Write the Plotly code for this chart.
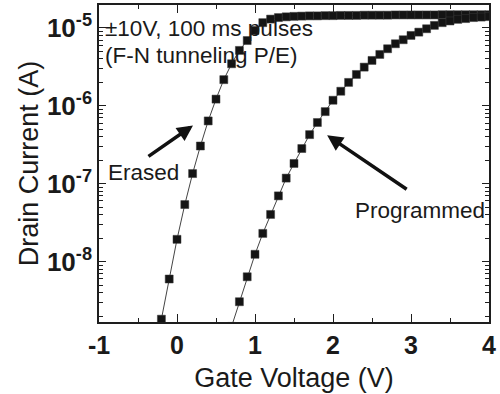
import plotly.graph_objects as go

# ---- data ----
erased_v = [-0.2, -0.1, 0.0, 0.1, 0.2, 0.3, 0.4, 0.5, 0.6, 0.7, 0.8, 0.9,
            1.0, 1.1, 1.2, 1.3, 1.4, 1.5, 1.6, 1.7, 1.8, 1.9,
            2.0, 2.1, 2.2, 2.3, 2.4, 2.5, 2.6, 2.7, 2.8, 2.9,
            3.0, 3.1, 3.2, 3.3, 3.4, 3.5, 3.6, 3.7, 3.8, 3.9, 4.0]
erased_i = [1.82e-9, 5.97e-9, 1.93e-8, 5.4e-8, 1.35e-7, 3.05e-7, 6.4e-7, 1.22e-6,
            2.17e-6, 3.47e-6, 5.15e-6, 6.9e-6,
            9.3e-6, 1.17e-5, 1.30e-5, 1.36e-5, 1.39e-5, 1.41e-5, 1.42e-5, 1.43e-5,
            1.43e-5, 1.44e-5,
            1.44e-5, 1.45e-5, 1.45e-5, 1.45e-5, 1.46e-5, 1.46e-5, 1.46e-5, 1.46e-5,
            1.47e-5, 1.47e-5,
            1.47e-5, 1.47e-5, 1.47e-5, 1.47e-5, 1.48e-5, 1.48e-5, 1.48e-5, 1.48e-5,
            1.48e-5, 1.48e-5, 1.48e-5]

prog_v = [0.7, 0.8, 0.9, 1.0, 1.1, 1.2, 1.3, 1.4, 1.5, 1.6, 1.7, 1.8, 1.9,
          2.0, 2.1, 2.2, 2.3, 2.4, 2.5, 2.6, 2.7, 2.8, 2.9,
          3.0, 3.1, 3.2, 3.3, 3.4, 3.5, 3.6, 3.7, 3.8, 3.9, 4.0]
prog_i = [1.47e-9, 3.05e-9, 6.38e-9, 1.24e-8, 2.30e-8, 4.03e-8, 6.98e-8, 1.18e-7,
          1.82e-7, 2.83e-7, 4.27e-7, 6.11e-7, 8.43e-7,
          1.18e-6, 1.54e-6, 2.00e-6, 2.53e-6, 3.14e-6, 3.83e-6, 4.57e-6, 5.41e-6,
          6.27e-6, 7.06e-6,
          8.02e-6, 8.84e-6, 9.77e-6, 1.08e-5, 1.17e-5, 1.23e-5, 1.29e-5, 1.32e-5,
          1.36e-5, 1.38e-5, 1.40e-5]

x_ticks = [-1, 0, 1, 2, 3, 4]
x_ticktext = ["-1", "0", "1", "2", "3", "4"]
x_minor = [-0.5, 0.5, 1.5, 2.5, 3.5]
y_ticks = [1e-8, 1e-7, 1e-6, 1e-5]
y_ticktext = ["10<sup>-8</sup>", "10<sup>-7</sup>", "10<sup>-6</sup>", "10<sup>-5</sup>"]
y_minor = [m * 10.0 ** e for e in (-9, -8, -7, -6, -5) for m in range(2, 10)]

FONT = "Liberation Sans, Arial, sans-serif"
AX = "#1e1e1e"

marker = dict(symbol="square", size=8, color="#141414", line=dict(width=0.5, color="#3a3a3a"))
line = dict(color="#444", width=1)

fig = go.Figure()
fig.add_trace(go.Scatter(x=erased_v, y=erased_i, mode="lines+markers",
                         marker=marker, line=line, name="Erased", showlegend=False))
fig.add_trace(go.Scatter(x=prog_v, y=prog_i, mode="lines+markers",
                         marker=marker, line=line, name="Programmed", showlegend=False))

fig.update_layout(
    width=500, height=394,
    margin=dict(l=99, r=11, t=4.5, b=72, autoexpand=False),
    paper_bgcolor="white", plot_bgcolor="white",
    font=dict(family=FONT, color="#1a1a1a"),
    xaxis=dict(
        range=[-1, 4], tickmode="array", tickvals=x_ticks, ticktext=x_ticktext,
        ticks="inside", ticklen=8, tickwidth=1.3, tickcolor=AX,
        showline=True, linecolor=AX, linewidth=1.6, mirror="ticks",
        showgrid=False, zeroline=False, automargin=False,
        tickfont=dict(size=25, weight="bold", family=FONT, color="#1a1a1a"),
        minor=dict(tickmode="array", tickvals=x_minor, ticks="inside", ticklen=4,
                   tickwidth=1.1, tickcolor=AX, showgrid=False),
        title=dict(text="Gate Voltage (V)", font=dict(size=27, family=FONT, color="#1a1a1a"),
                   standoff=10),
    ),
    yaxis=dict(
        type="log", range=[-8.776, -4.705], tickmode="array",
        tickvals=y_ticks, ticktext=y_ticktext,
        ticks="inside", ticklen=7, tickwidth=1.3, tickcolor=AX,
        showline=True, linecolor=AX, linewidth=1.6, mirror="ticks",
        showgrid=False, zeroline=False, automargin=False,
        tickfont=dict(size=26, weight="bold", family=FONT, color="#1a1a1a"),
        minor=dict(tickmode="array", tickvals=y_minor, ticks="inside", ticklen=4,
                   tickwidth=1.0, tickcolor=AX, showgrid=False),
        title=dict(text="Drain Current (A)", font=dict(size=27, family=FONT, color="#1a1a1a"),
                   standoff=0),
    ),
)

txt = dict(size=22.5, family=FONT, color="#1a1a1a")
fig.add_annotation(text="±10V, 100 ms pulses", xref="paper", yref="paper",
                   x=0.010, y=0.926, xanchor="left", yanchor="middle", showarrow=False, font=txt)
fig.add_annotation(text="(F-N tunneling P/E)", xref="paper", yref="paper",
                   x=0.010, y=0.841, xanchor="left", yanchor="middle", showarrow=False, font=txt)
fig.add_annotation(text="Erased", xref="paper", yref="paper",
                   x=0.113, y=0.472, xanchor="center", yanchor="middle", showarrow=False, font=txt)
fig.add_annotation(text="Programmed", xref="paper", yref="paper",
                   x=0.823, y=0.353, xanchor="center", yanchor="middle", showarrow=False, font=txt)
# arrows
fig.add_annotation(text="", xref="paper", yref="paper", x=0.241, y=0.620,
                   ax=-46, ay=32, showarrow=True, arrowhead=2, arrowsize=0.9,
                   arrowwidth=3.5, arrowcolor="#111")
fig.add_annotation(text="", xref="paper", yref="paper", x=0.585, y=0.589,
                   ax=81, ay=55, showarrow=True, arrowhead=2, arrowsize=0.9,
                   arrowwidth=3.5, arrowcolor="#111")

fig.write_html("out.html", config={"displayModeBar": False},
               post_script="document.body.style.margin='0';document.body.style.overflow='hidden';")
